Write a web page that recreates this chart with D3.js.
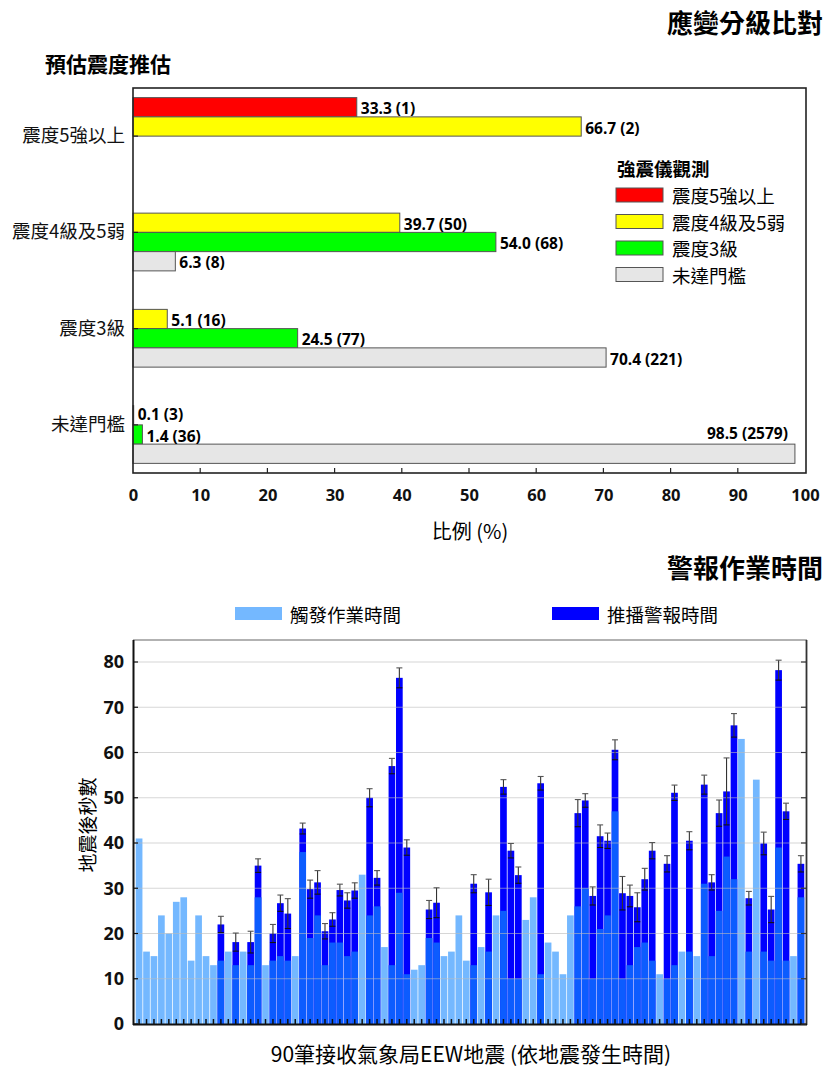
<!DOCTYPE html>
<html><head><meta charset="utf-8">
<script src="https://cdn.jsdelivr.net/npm/d3@7"></script>
<style>body{margin:0;background:#fff}svg{display:block}</style>
</head><body>
<script>
// ---------- Top chart data ----------
const predictedLevels = ["震度5強以上","震度4級及5弱","震度3級","未達門檻"];
const observedLevels = ["震度5強以上","震度4級及5弱","震度3級","未達門檻"];
const observedColors = ["#ff0000","#ffff00","#00ff00","#e6e6e6"];
const obs5PlusPct   = [33.3, null, null, null];
const obs5PlusCount = [1, null, null, null];
const obs4Pct       = [66.7, 39.7, 5.1, 0.1];
const obs4Count     = [2, 50, 16, 3];
const obs3Pct       = [null, 54.0, 24.5, 1.4];
const obs3Count     = [null, 68, 77, 36];
const obsNonePct    = [null, 6.3, 70.4, 98.5];
const obsNoneCount  = [null, 8, 221, 2579];
const pctTicks = [0,10,20,30,40,50,60,70,80,90,100];

// ---------- Bottom chart data ----------
const triggerTimes = [41,16,15,24,20,27,28,14,24,15,
  13,14,16,13,16,13,28,13,14,15,
  14,15,38,19,24,13,18,18,15,16,
  33,24,26,17,13,29,11,12,13,19,
  18,15,16,24,14,13,17,16,24,25,
  10,10,23,28,11,18,16,11,24,26,
  30,10,21,24,47,10,13,17,18,14,
  11,10,13,16,16,15,31,15,25,37,
  32,63,16,54,16,14,39,14,15,28];
const broadcastTimes = [null,null,null,null,null,null,null,null,null,null,
  null,22,null,18.1,null,18.1,35,null,20,26.7,
  24.4,null,43.2,29.8,31.3,20.5,23.1,29.6,27.3,29.5,
  null,50,32.3,null,57,76.5,39,null,null,25.3,
  26.8,null,null,null,null,31,null,29.1,null,52.4,
  38.3,32.9,null,null,53.2,null,null,null,null,46.6,
  49.4,28.3,41.5,40.5,60.6,28.9,28.3,25.8,32,38.3,
  null,35.4,51.1,null,40.5,null,52.9,31.3,46.6,51.4,
  66,null,27.8,null,39.9,25.3,78.2,47,null,35.4];
const broadcastErr = [null,null,null,null,null,null,null,null,null,null,
  null,1.8,null,2,null,2.4,1.5,null,2,1.8,
  3.3,null,1.2,2,2.6,1.7,1.5,1.3,1.7,1.7,
  null,2,1.6,null,1.7,2.2,1.7,null,null,2,
  3.3,null,null,null,null,2,null,2.9,null,1.6,
  1.6,1.8,null,null,1.5,null,null,null,null,3,
  1.5,2,2.5,1.7,2.2,3.7,2.4,3.2,2.4,1.8,
  null,1.8,1.7,null,2,null,2.1,1.7,2.9,7.4,
  2.6,null,1.5,null,2.5,2.9,2.2,1.8,null,1.8];
const secTicks = [0,10,20,30,40,50,60,70,80];

const CJK = "'Noto Sans CJK TC','Noto Sans',sans-serif";
const NUM = "'Open Sans','Noto Sans CJK TC',sans-serif";

const svg = d3.select("body").append("svg").attr("width",827).attr("height",1068);

// Titles
svg.append("text").attr("x",823).attr("y",21).attr("text-anchor","end").attr("dominant-baseline","central")
  .attr("font-family",CJK).attr("font-weight","bold").attr("font-size",26).text("應變分級比對");
svg.append("text").attr("x",45).attr("y",63).attr("dominant-baseline","central")
  .attr("font-family",CJK).attr("font-weight","bold").attr("font-size",21).text("預估震度推估");
svg.append("text").attr("x",823).attr("y",566).attr("text-anchor","end").attr("dominant-baseline","central")
  .attr("font-family",CJK).attr("font-weight","bold").attr("font-size",26).text("警報作業時間");

// ---------- Top chart ----------
const xT = d3.scaleLinear().domain([0,100]).range([133,805]);
const yG = d3.scaleBand().domain(predictedLevels).range([88,473]).paddingInner(0.2).paddingOuter(0.1);
const yS = d3.scaleBand().domain(observedLevels).range([0,yG.bandwidth()]);
const seriesPct = [obs5PlusPct, obs4Pct, obs3Pct, obsNonePct];
const seriesCnt = [obs5PlusCount, obs4Count, obs3Count, obsNoneCount];
const topData = [];
observedLevels.forEach((o,si)=>{
  predictedLevels.forEach((p,pi)=>{
    const v = seriesPct[si][pi];
    if (v!==null) topData.push({p,o,si,v,c:seriesCnt[si][pi]});
  });
});
const gTop = svg.append("g");
gTop.selectAll("rect.bar").data(topData).join("rect").attr("class","bar")
  .attr("x",xT(0)).attr("y",d=>yG(d.p)+yS(d.o))
  .attr("width",d=>xT(d.v)-xT(0)).attr("height",yS.bandwidth())
  .attr("fill",d=>observedColors[d.si]).attr("stroke","#555").attr("stroke-width",1);
gTop.selectAll("text.lab").data(topData).join("text").attr("class","lab")
  .attr("x",d=> d.v>90 ? xT(d.v)-7 : xT(d.v)+4)
  .attr("y",d=> d.v>90 ? yG(d.p)+yS(d.o)-11 : yG(d.p)+yS(d.o)+yS.bandwidth()/2+(d.v<1?-1:1))
  .attr("text-anchor",d=> d.v>90 ? "end":"start")
  .attr("dominant-baseline","central")
  .attr("font-family",NUM).attr("font-weight","bold").attr("font-size",15.5)
  .text(d=>`${d.v.toFixed(1)} (${d.c})`);
// frame
gTop.append("rect").attr("x",133).attr("y",88).attr("width",673).attr("height",385)
  .attr("fill","none").attr("stroke","#222").attr("stroke-width",1.6);
// x axis
const xAxisT = d3.axisBottom(xT).tickValues(pctTicks).tickSize(0).tickPadding(0);
const gxT = gTop.append("g").attr("transform","translate(0,473)").call(xAxisT);
gxT.select(".domain").remove();
gxT.selectAll("text").attr("y",16).attr("font-family",NUM).attr("font-weight","bold").attr("font-size",16.5).attr("fill","#111");
gTop.selectAll("line.xt").data(pctTicks.slice(1,-1)).join("line").attr("class","xt")
  .attr("x1",d=>xT(d)).attr("x2",d=>xT(d)).attr("y1",473).attr("y2",468).attr("stroke","#222").attr("stroke-width",1.2);
// y axis
const yAxisT = d3.axisLeft(yG).tickSize(0).tickPadding(8);
const gyT = gTop.append("g").attr("transform","translate(133,0)").call(yAxisT);
gyT.select(".domain").remove();
gyT.selectAll("text").attr("font-family",CJK).attr("font-size",18.5).attr("fill","#111");
gTop.selectAll("line.yt").data(predictedLevels).join("line").attr("class","yt")
  .attr("x1",133).attr("x2",138).attr("y1",d=>yG(d)+yG.bandwidth()/2).attr("y2",d=>yG(d)+yG.bandwidth()/2)
  .attr("stroke","#222").attr("stroke-width",1.2);
svg.append("text").attr("x",470).attr("y",530).attr("text-anchor","middle").attr("dominant-baseline","central")
  .attr("font-family",CJK).attr("font-size",20).text("比例 (%)");
// legend
svg.append("text").attr("x",617).attr("y",168).attr("dominant-baseline","central")
  .attr("font-family",CJK).attr("font-weight","bold").attr("font-size",18.5).text("強震儀觀測");
const lg = svg.append("g").selectAll("g").data(observedLevels).join("g")
  .attr("transform",(d,i)=>`translate(616,${188+i*26.5})`);
lg.append("rect").attr("width",47).attr("height",14).attr("fill",(d,i)=>observedColors[i]).attr("stroke","#555");
lg.append("text").attr("x",56).attr("y",7).attr("dominant-baseline","central")
  .attr("font-family",CJK).attr("font-size",18.5).text(d=>d);

// ---------- Bottom chart ----------
const idx = d3.range(triggerTimes.length);
const xB = d3.scaleBand().domain(idx).range([135,805]).paddingInner(0.1).paddingOuter(0.1);
const yB = d3.scaleLinear().domain([0,80]).range([1024,662]);
const LIGHT = "#74b8ff", MED = "#0c5cff", DARK = "#0000ff";
const gB = svg.append("g");
const bData = idx.map(i=>({i,t:triggerTimes[i],b:broadcastTimes[i],e:broadcastErr[i]}));
gB.selectAll("rect.bc").data(bData.filter(d=>d.b!==null)).join("rect").attr("class","bc")
  .attr("x",d=>xB(d.i)).attr("width",xB.bandwidth())
  .attr("y",d=>yB(d.b)).attr("height",d=>yB(0)-yB(d.b)).attr("fill",DARK);
gB.selectAll("rect.tr").data(bData).join("rect").attr("class","tr")
  .attr("x",d=>xB(d.i)).attr("width",xB.bandwidth())
  .attr("y",d=>yB(d.t)).attr("height",d=>yB(0)-yB(d.t)).attr("fill",d=>d.b!==null?MED:LIGHT);
// gridlines
gB.selectAll("line.grid").data(secTicks.slice(1)).join("line").attr("class","grid")
  .attr("x1",134).attr("x2",806).attr("y1",d=>yB(d)).attr("y2",d=>yB(d))
  .attr("stroke","#bbb").attr("stroke-opacity",0.6).attr("stroke-width",1.2);
// error bars
const eb = gB.selectAll("g.eb").data(bData.filter(d=>d.e!==null)).join("g").attr("class","eb");
const cx = d=>xB(d.i)+xB.bandwidth()/2;
eb.append("line").attr("x1",cx).attr("x2",cx).attr("y1",d=>yB(d.b-d.e)).attr("y2",d=>yB(d.b+d.e))
  .attr("stroke","#333").attr("stroke-width",1.1);
eb.append("line").attr("x1",d=>cx(d)-3).attr("x2",d=>cx(d)+3).attr("y1",d=>yB(d.b+d.e)).attr("y2",d=>yB(d.b+d.e))
  .attr("stroke","#555").attr("stroke-width",1.1);
eb.append("line").attr("x1",d=>cx(d)-3).attr("x2",d=>cx(d)+3).attr("y1",d=>yB(d.b-d.e)).attr("y2",d=>yB(d.b-d.e))
  .attr("stroke","#111").attr("stroke-width",1.1);
// frame
gB.append("line").attr("x1",133).attr("x2",807).attr("y1",640).attr("y2",640).attr("stroke","#999").attr("stroke-width",1.5);
gB.append("line").attr("x1",806.5).attr("x2",806.5).attr("y1",640).attr("y2",1025).attr("stroke","#333").attr("stroke-width",1.8);
gB.append("line").attr("x1",133.5).attr("x2",133.5).attr("y1",640).attr("y2",1025).attr("stroke","#111").attr("stroke-width",2);
gB.append("line").attr("x1",133).attr("x2",807).attr("y1",1024.5).attr("y2",1024.5).attr("stroke","#111").attr("stroke-width",2);
// y axis labels and ticks
const yAxisB = d3.axisLeft(yB).tickValues(secTicks).tickSize(0).tickPadding(9);
const gyB = gB.append("g").attr("transform","translate(133,0)").call(yAxisB);
gyB.select(".domain").remove();
gyB.selectAll("text").attr("font-family",NUM).attr("font-weight","bold").attr("font-size",18).attr("fill","#111");
gB.selectAll("line.ytl").data(secTicks).join("line").attr("class","ytl")
  .attr("x1",133).attr("x2",138).attr("y1",d=>yB(d)).attr("y2",d=>yB(d)).attr("stroke","#111").attr("stroke-width",1.2);
gB.selectAll("line.ytr").data(secTicks).join("line").attr("class","ytr")
  .attr("x1",801).attr("x2",806).attr("y1",d=>yB(d)).attr("y2",d=>yB(d)).attr("stroke","#333").attr("stroke-width",1.2);
// x ticks
const xAxisB = d3.axisBottom(xB).tickSize(-5).tickFormat("");
const gxB = gB.append("g").attr("transform","translate(0,1024)").call(xAxisB);
gxB.select(".domain").remove();
gxB.selectAll("line").attr("stroke","#111").attr("stroke-width",1.5);
// axis titles
svg.append("text").attr("transform","translate(86,825) rotate(-90)").attr("text-anchor","middle").attr("dominant-baseline","central")
  .attr("font-family",CJK).attr("font-size",19).text("地震後秒數");
svg.append("text").attr("x",471).attr("y",1053).attr("text-anchor","middle").attr("dominant-baseline","central")
  .attr("font-family",CJK).attr("font-size",21).text("90筆接收氣象局EEW地震 (依地震發生時間)");
// legend
const legB = [{name:"觸發作業時間",c:LIGHT,x:235},{name:"推播警報時間",c:DARK,x:552}];
const lb = svg.append("g").selectAll("g").data(legB).join("g").attr("transform",d=>`translate(${d.x},607)`);
lb.append("rect").attr("width",47).attr("height",13).attr("fill",d=>d.c);
lb.append("text").attr("x",55).attr("y",7).attr("dominant-baseline","central")
  .attr("font-family",CJK).attr("font-size",18.5).text(d=>d.name);
</script>
</body></html>
